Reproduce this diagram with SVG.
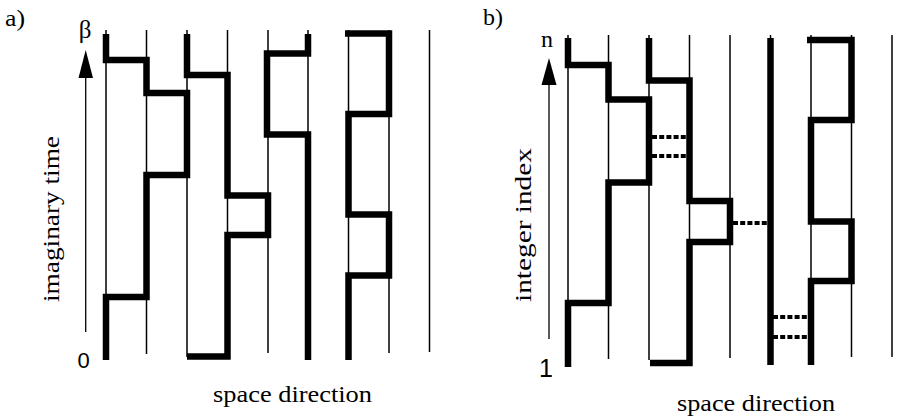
<svg xmlns="http://www.w3.org/2000/svg" width="898" height="418" viewBox="0 0 898 418">
<style>
.site{stroke:#000;stroke-width:1.5;fill:none}
.wl{stroke:#000;stroke-width:6.5;fill:none;stroke-linejoin:miter;stroke-linecap:butt}
.dash{stroke:#000;stroke-width:4;stroke-dasharray:5 2.2;fill:none}
.axis{stroke:#000;stroke-width:1.3;fill:none}
.serif{font-family:"Liberation Serif","Times New Roman",serif;fill:#000}
.sans{font-family:"Liberation Sans",Arial,sans-serif;fill:#000}
</style>
<rect width="898" height="418" fill="#fff"/>
<g id="panel-a">
  <g id="a-sites">
    <path class="site" d="M106 30V354M146.5 30V354M187 30V357M227.5 30V354M268 30V353M308 30V354M348.5 30V354M389 30V353M429.5 30V352"/>
  </g>
  <g id="a-worldlines">
    <path class="wl" d="M106 34V60H146.5V93H187V175H146.5V297H106V360"/>
    <path class="wl" d="M187 34V75H227.5V195.5H268V235H227.5V356.5H187"/>
    <path class="wl" d="M308 34V53.5H267V134.5H308V360"/>
    <path class="wl" d="M345 33.5H389V114H348.5V214.5H389V275.5H348.5V360"/>
  </g>
  <g id="a-axis">
    <line class="axis" x1="85.7" y1="332" x2="85.7" y2="76"/>
    <polygon points="85.7,50 78.5,78 93,78" fill="#000"/>
    <text class="serif" x="85" y="38" font-size="25" text-anchor="middle">β</text>
    <text class="sans" x="83.5" y="368" font-size="22" text-anchor="middle">0</text>
    <text class="serif" font-size="24" text-anchor="middle" transform="translate(59 219) rotate(-90)" textLength="166" lengthAdjust="spacingAndGlyphs">imaginary time</text>
  </g>
  <text class="serif" x="5" y="26" font-size="23" textLength="20" lengthAdjust="spacingAndGlyphs">a)</text>
  <text class="serif" x="292.5" y="402" font-size="23" text-anchor="middle" textLength="159" lengthAdjust="spacingAndGlyphs">space direction</text>
</g>
<g id="panel-b">
  <g id="b-sites">
    <path class="site" d="M568 35V360M608.5 35V359M649 35V360M689.5 35V358M730 35V358M770.5 35V358M811 35V358M851.5 35V357M892 35V357"/>
  </g>
  <g id="b-connectors">
    <path class="dash" d="M652 137H687M652 156H687M733 223H768M773 317H808M773 337H808"/>
  </g>
  <g id="b-worldlines">
    <path class="wl" d="M568 38V65H608.5V99.5H649V182.5H608.5V303H568V367"/>
    <path class="wl" d="M649 38V80.5H689.5V201H730V242H689.5V363H650"/>
    <path class="wl" d="M770.5 38V365"/>
    <path class="wl" d="M807 40H851.5V120H811V221.5H851.5V281H811V365"/>
  </g>
  <g id="b-axis">
    <line class="axis" x1="549" y1="339" x2="549" y2="83"/>
    <polygon points="549,58 541.5,85 556.5,85" fill="#000"/>
    <text class="serif" x="547" y="47" font-size="24" text-anchor="middle">n</text>
    <text class="sans" x="546" y="377" font-size="25" text-anchor="middle">1</text>
    <text class="serif" font-size="23" text-anchor="middle" transform="translate(531 225) rotate(-90)" textLength="154" lengthAdjust="spacingAndGlyphs">integer index</text>
  </g>
  <text class="serif" x="483" y="25" font-size="23" textLength="20" lengthAdjust="spacingAndGlyphs">b)</text>
  <text class="serif" x="756" y="411" font-size="23" text-anchor="middle" textLength="158" lengthAdjust="spacingAndGlyphs">space direction</text>
</g>
</svg>
